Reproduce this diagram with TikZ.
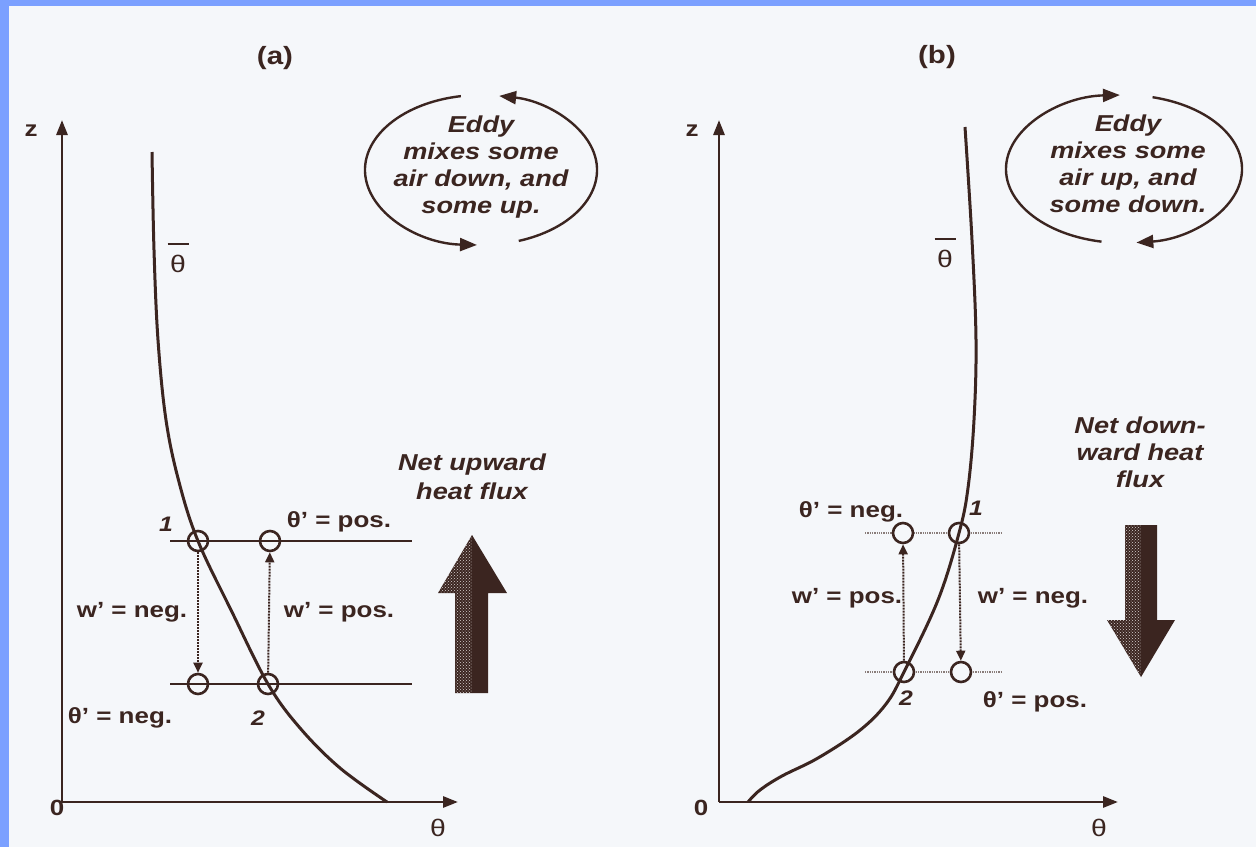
\documentclass[tikz,border=0pt]{standalone}
\usepackage{fontspec}
\setmainfont{Liberation Sans}[FakeStretch=1.18]
\usetikzlibrary{arrows.meta,patterns}
\definecolor{ink}{HTML}{3B2520}
\definecolor{page}{HTML}{F5F7FA}
\definecolor{frame}{HTML}{7BA0FF}
\begin{document}
\begin{tikzpicture}[x=1pt,y=-1pt,
  axis/.style={line width=2.8pt, draw=ink, -{Triangle[length=15pt,width=11pt]}},
  curve/.style={line width=3pt, draw=ink},
  level/.style={line width=2.8pt, draw=ink},
  dlevel/.style={line width=1.3pt, draw=ink!60, densely dotted},
  pt/.style={circle, draw=ink, line width=2.6pt, minimum size=20pt, inner sep=0pt},
  ptb/.style={pt, fill=page},
  move/.style={draw=ink, line width=2pt, densely dotted, -{Triangle[length=10pt,width=9pt]}},
  eddy/.style={line width=2.4pt, draw=ink, -{Triangle[length=17pt,width=13pt]}},
  lbl/.style={font=\fontsize{22}{24}\selectfont\bfseries, text=ink, inner sep=0pt},
  num/.style={font=\fontsize{21}{24}\selectfont\bfseries\itshape, text=ink, inner sep=0pt},
  ital/.style={font=\fontsize{23}{27}\selectfont\bfseries\itshape, text=ink, align=center, inner sep=0pt},
  plain/.style={font=\fontsize{22}{24}\selectfont\bfseries, text=ink, inner sep=0pt},
  tbar/.style={font=\fontsize{24}{24}\selectfont, text=ink, inner sep=0pt, align=center},
  halftone/.style={pattern=crosshatch dots, pattern color=white!80!ink}]
\useasboundingbox (0,0) rectangle (1256,847);
\fill[page] (0,0) rectangle (1256,847);
\fill[frame] (0,0) rectangle (9,847);
\fill[frame] (0,0) rectangle (1256,6);

% ---------------- panel (a) ----------------
\node[plain, font=\fontsize{25}{25}\selectfont\bfseries] (tA) at (275,58) {(a)};
\coordinate (oA) at (62,802);
\coordinate (zA) at (62,120);
\coordinate (xA) at (458,802);
\draw[axis] (oA) -- (zA);
\draw[axis] (oA) -- (xA);
\node[lbl] (zlA) at (31,131) {z};
\node[plain] (olA) at (57,808) {0};
\node[tbar] (thA) at (438,828) {θ};
\node[tbar] (tbA) at (178,258) {\rule{21pt}{2pt}\\[3pt]θ};

\coordinate (hA1) at (170,541);
\coordinate (hA2) at (412,541);
\coordinate (hA3) at (170,684);
\coordinate (hA4) at (412,684);
\draw[level] (hA1) -- (hA2);
\draw[level] (hA3) -- (hA4);
\draw[curve] plot[smooth, tension=0.6] coordinates {(152,152) (154,250) (158,340) (166,420) (179,482) (198,541) (232,612) (268,684) (300,728) (340,768) (387,802)};
\node[pt] (a1) at (198,541) {};
\node[pt] (a2) at (270,541) {};
\node[pt] (a3) at (198,684) {};
\node[pt] (a4) at (268,684) {};
\draw[move] (a1) -- (a3);
\draw[move] (a4) -- (a2);
\node[num] (n1A) at (166,524) {1};
\node[num] (n2A) at (258,718) {2};
\node[lbl] (tpA) at (339,522) {θ' = pos.};
\node[lbl] (wnA) at (132,612) {w' = neg.};
\node[lbl] (wpA) at (339,612) {w' = pos.};
\node[lbl] (tnA) at (120,718) {θ' = neg.};

% eddy (a)
\draw[eddy] (481,170) ++({116*cos(-100)},{75*sin(-100)}) arc[start angle=-100, end angle=-268, x radius=116, y radius=75];
\draw[eddy] (481,170) ++({116*cos(-289)},{75*sin(-289)}) arc[start angle=-289, end angle=-441, x radius=116, y radius=75];
\node[ital] (eA) at (481,167) {Eddy\\mixes some\\air down, and\\some up.};

\node[ital, font=\fontsize{23}{29}\selectfont\bfseries\itshape] (nA) at (472,477) {Net upward\\heat flux};
\fill[ink] (472,535) -- (438,593) -- (455,593) -- (455,693) -- (472,693) -- cycle;
\fill[halftone] (472,535) -- (438,593) -- (455,593) -- (455,693) -- (472,693) -- cycle;
\fill[ink] (472,535) -- (507,593) -- (488,593) -- (488,693) -- (472,693) -- cycle;

% ---------------- panel (b) ----------------
\node[plain, font=\fontsize{25}{25}\selectfont\bfseries] (tB) at (937,57) {(b)};
\coordinate (oB) at (719,802);
\coordinate (zB) at (719,120);
\coordinate (xB) at (1118,802);
\draw[axis] (oB) -- (zB);
\draw[axis] (oB) -- (xB);
\node[lbl] (zlB) at (692,131) {z};
\node[plain] (olB) at (701,808) {0};
\node[tbar] (thB) at (1099,828) {θ};
\node[tbar] (tbB) at (945,253) {\rule{21pt}{2pt}\\[3pt]θ};

\coordinate (hB1) at (865,533);
\coordinate (hB2) at (1002,533);
\coordinate (hB3) at (865,672);
\coordinate (hB4) at (1002,672);
\draw[dlevel] (hB1) -- (hB2);
\draw[dlevel] (hB3) -- (hB4);
\node[ptb] (b1) at (959,533) {};
\node[ptb] (b2) at (903,533) {};
\node[ptb] (b3) at (904,672) {};
\node[ptb] (b4) at (961,672) {};
\draw[curve] plot[smooth, tension=0.6] coordinates {(965,127) (972,240) (976,340) (974,420) (968,488) (959,533) (938,600) (904,672) (886,704) (859,731) (818,758) (782,776) (760,790) (748,802)};
\draw[move] (b3) -- (b2);
\draw[move] (b1) -- (b4);
\node[num] (n1B) at (976,508) {1};
\node[num] (n2B) at (906,698) {2};
\node[lbl] (tnB) at (851,512) {θ' = neg.};
\node[lbl] (wpB) at (847,598) {w' = pos.};
\node[lbl] (wnB) at (1033,598) {w' = neg.};
\node[lbl] (tpB) at (1035,702) {θ' = pos.};

% eddy (b)
\draw[eddy] (1124,169) ++({118*cos(-259)},{74*sin(-259)}) arc[start angle=-259, end angle=-92, x radius=118, y radius=74];
\draw[eddy] (1124,169) ++({118*cos(-76)},{74*sin(-76)}) arc[start angle=-76, end angle=84, x radius=118, y radius=74];
\node[ital] (eB) at (1128,164) {Eddy\\mixes some\\air up, and\\some down.};

\node[ital] (nB) at (1140,452) {Net down-\\ward heat\\flux};
\fill[ink] (1141,677) -- (1107,620) -- (1125,620) -- (1125,525) -- (1141,525) -- cycle;
\fill[halftone] (1141,677) -- (1107,620) -- (1125,620) -- (1125,525) -- (1141,525) -- cycle;
\fill[ink] (1141,677) -- (1175,620) -- (1157,620) -- (1157,525) -- (1141,525) -- cycle;
\end{tikzpicture}
\end{document}
